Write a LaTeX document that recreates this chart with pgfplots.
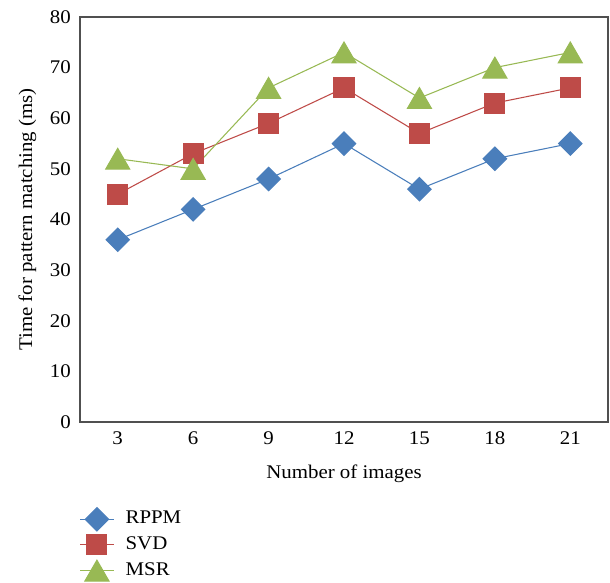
\documentclass[border=0pt]{standalone}
\usepackage{fontspec}
\setmainfont{Liberation Serif}[FakeStretch=1.08]
\usepackage{pgfplots}
\pgfplotsset{compat=1.18}
\definecolor{cblue}{RGB}{74,126,187}
\definecolor{cred}{RGB}{190,75,72}
\definecolor{cgreen}{RGB}{152,185,84}
\definecolor{axgray}{RGB}{80,80,80}
\begin{document}
\begin{tikzpicture}[font=\fontsize{14.5}{17}\selectfont]
\begin{axis}[
  scale only axis, width=396pt, height=303.75pt,
  xmin=1.5, xmax=22.5, ymin=0, ymax=80,
  xtick={3,6,9,12,15,18,21}, ytick={0,10,20,30,40,50,60,70,80},
  major tick length=0pt,
  axis line style={axgray, line width=1.1pt},
  /pgf/number format/assume math mode=true,
  xticklabel style={anchor=base, yshift=-16.5pt, inner sep=0pt},
  yticklabel style={anchor=east, xshift=-6.75pt, inner sep=0pt},
  xlabel={Number of images},
  ylabel={Time for pattern matching (ms)},
  x label style={at={(axis description cs:0.5,0)}, anchor=base, yshift=-42pt},
  y label style={at={(axis description cs:-0.0909,0.5)}, anchor=base},
  clip=false,
  legend image code/.code={
    \pgfinterruptboundingbox
    \draw[mark repeat=2,mark phase=2,#1] plot coordinates {(0pt,0pt) (12.5pt,0pt) (25pt,0pt)};
    \endpgfinterruptboundingbox
    \pgfpathrectangle{\pgfpoint{0pt}{-3pt}}{\pgfpoint{25pt}{6pt}}\pgfusepath{use as bounding box}
  },
  legend cell align=left,
  legend style={at={(axis description cs:0,0)}, anchor=north west, yshift=-66.25pt,
    draw=none, fill=none, inner sep=0pt, row sep=6.25pt, column sep=9pt,
    nodes={inner sep=0pt, text height=10pt, text depth=3pt}},
]
\addplot[cblue, line width=0.8pt, mark=square*, mark size=6.2pt, mark options={rotate=45, fill=cblue, draw=cblue}]
  coordinates {(3,36) (6,42) (9,48) (12,55) (15,46) (18,52) (21,55)};
\addlegendentry{RPPM}
\addplot[cred, line width=0.8pt, mark=square*, mark size=7.5pt, mark options={fill=cred, draw=cred}]
  coordinates {(3,45) (6,53) (9,59) (12,66) (15,57) (18,63) (21,66)};
\addlegendentry{SVD}
\addplot[cgreen, line width=0.8pt, mark=triangle*, mark size=10.4pt, mark options={fill=cgreen, draw=cgreen, yshift=-2.6pt}]
  coordinates {(3,52) (6,50) (9,66) (12,73) (15,64) (18,70) (21,73)};
\addlegendentry{MSR}
\end{axis}
\pgfresetboundingbox
\useasboundingbox ([shift={(-60pt,-120pt)}]current axis.south west) rectangle ([shift={(1.5pt,12.75pt)}]current axis.north east);
\end{tikzpicture}
\end{document}
